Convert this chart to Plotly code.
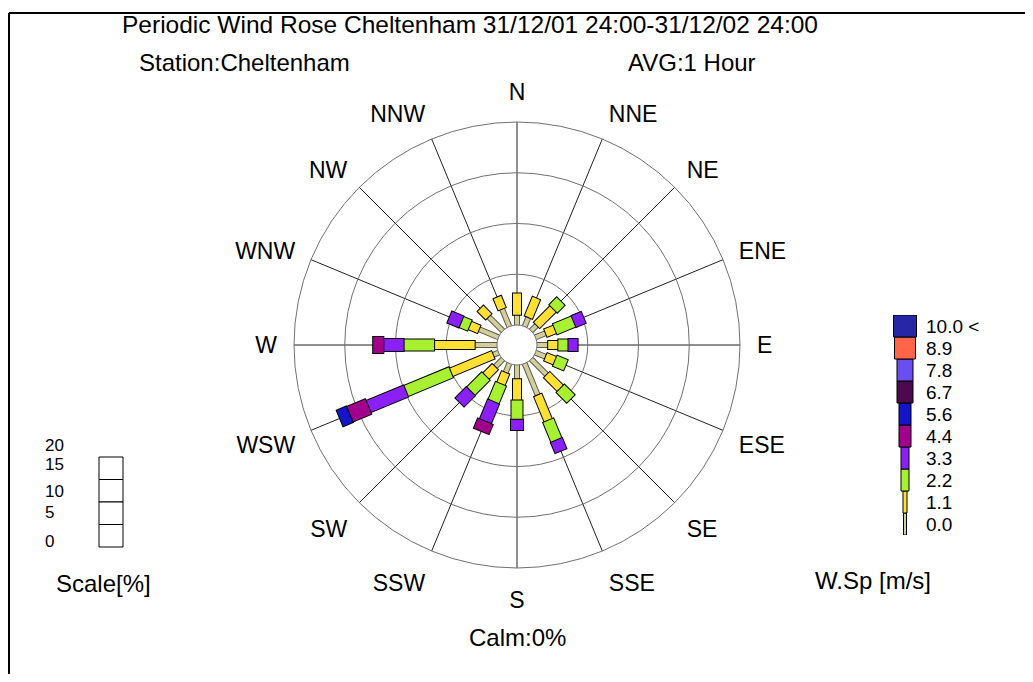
import plotly.graph_objects as go

# ---------------- data ----------------
directions = ["N", "NNE", "NE", "ENE", "E", "ESE", "SE", "SSE",
              "S", "SSW", "SW", "WSW", "W", "WNW", "NW", "NNW"]

speed_labels = ["0.0", "1.1", "2.2", "3.3", "4.4", "5.6", "6.7", "7.8", "8.9", "10.0 <"]

# frequency [%] of each wind-speed class, per direction
freq_0_0 = [1.0, 1.0, 0.8, 1.1, 1.1, 1.1, 2.2, 3.4, 1.4, 1.0, 1.1, 0.6, 2.2, 2.1, 2.0, 1.9]
freq_1_1 = [2.1, 2.0, 2.3, 1.0, 1.0, 1.0, 1.9, 2.7, 2.1, 1.2, 1.3, 4.5, 4.0, 1.0, 1.1, 1.2]
freq_2_2 = [0.0, 0.0, 1.0, 2.0, 1.0, 1.1, 1.4, 2.1, 1.9, 1.9, 2.1, 4.8, 3.0, 0.9, 0.0, 0.0]
freq_3_3 = [0.0, 0.0, 0.0, 1.0, 0.9, 0.0, 0.0, 1.1, 1.0, 2.1, 1.5, 4.0, 2.0, 1.2, 0.0, 0.0]
freq_4_4 = [0.0, 0.0, 0.0, 0.0, 0.0, 0.0, 0.0, 0.0, 0.0, 1.0, 0.0, 2.0, 1.0, 0.0, 0.0, 0.0]
freq_5_6 = [0.0, 0.0, 0.0, 0.0, 0.0, 0.0, 0.0, 0.0, 0.0, 0.0, 0.0, 1.0, 0.0, 0.0, 0.0, 0.0]
freq_6_7 = [0.0, 0.0, 0.0, 0.0, 0.0, 0.0, 0.0, 0.0, 0.0, 0.0, 0.0, 0.0, 0.0, 0.0, 0.0, 0.0]
freq_7_8 = [0.0, 0.0, 0.0, 0.0, 0.0, 0.0, 0.0, 0.0, 0.0, 0.0, 0.0, 0.0, 0.0, 0.0, 0.0, 0.0]
freq_8_9 = [0.0, 0.0, 0.0, 0.0, 0.0, 0.0, 0.0, 0.0, 0.0, 0.0, 0.0, 0.0, 0.0, 0.0, 0.0, 0.0]
freq_10 = [0.0, 0.0, 0.0, 0.0, 0.0, 0.0, 0.0, 0.0, 0.0, 0.0, 0.0, 0.0, 0.0, 0.0, 0.0, 0.0]

scale_labels = ["20", "15", "10", "5", "0"]
calm_pct = 0

title_text = "Periodic Wind Rose Cheltenham 31/12/01 24:00-31/12/02 24:00"
station_text = "Station:Cheltenham"
avg_text = "AVG:1 Hour"

# ---------------- style ----------------
FONT = "Liberation Sans, Arial, sans-serif"
W, H = 1017, 666          # figure size (page has 8px body margin)
classes = [freq_0_0, freq_1_1, freq_2_2, freq_3_3, freq_4_4,
           freq_5_6, freq_6_7, freq_7_8, freq_8_9, freq_10]
colors = ["#D4CE9E", "#FFE033", "#A8F032", "#8A20F5", "#A0008C",
          "#1414C8", "#4B0A4B", "#6A4EF0", "#FF6648", "#2626A6"]
rose_w = [4, 8, 11, 12, 16, 17, 18, 19, 21, 23]     # px, coloured part
legend_w = [3, 4, 8, 8, 12, 12, 16, 16, 21, 23]      # px

R_OUT, R_HOLE = 223.0, 20.0
px_per_unit = (R_OUT - R_HOLE) / 20.0
d = 1.0 / px_per_unit   # 1px outline in radial units


def X(px):
    return (px - 8) / W


def Y(py):
    return 1 - (py - 8) / H


fig = go.Figure()

# ---------------- rose (stacked segments) ----------------
cum = [0.0] * len(directions)
for k, vals in enumerate(classes):
    rb, tb, rc, tc = [], [], [], []
    for j, v in enumerate(vals):
        if v <= 0:
            continue
        r0 = cum[j]
        r1 = r0 + v
        rb += [max(r0 - d, 0), r1 + d, None]
        tb += [directions[j], directions[j], None]
        rc += [r0, r1, None]
        tc += [directions[j], directions[j], None]
        cum[j] = r1
    if not rc:
        continue
    edge = "#5a5a48" if k == 0 else "black"
    fig.add_trace(go.Scatterpolar(r=rb, theta=tb, mode="lines",
                                  line=dict(color=edge, width=rose_w[k] + 2),
                                  showlegend=False, hoverinfo="skip"))
    fig.add_trace(go.Scatterpolar(r=rc, theta=tc, mode="lines",
                                  line=dict(color=colors[k], width=rose_w[k]),
                                  showlegend=False, hoverinfo="skip"))

# ---------------- speed legend ----------------
for i, lab in enumerate(speed_labels):
    fig.add_trace(go.Bar(x=[0], y=[1], base=[i], width=[legend_w[i]],
                         marker=dict(color=colors[i], line=dict(color="black", width=1)),
                         xaxis="x", yaxis="y", showlegend=False, hoverinfo="skip"))

cx, cy = 517, 345
fig.update_layout(
    width=W, height=H,
    margin=dict(l=0, r=0, t=0, b=0),
    paper_bgcolor="white", plot_bgcolor="white",
    font=dict(family=FONT, color="black", size=23),
    barmode="overlay",
    hovermode=False,
    polar=dict(
        domain=dict(x=[X(cx - R_OUT), X(cx + R_OUT)], y=[Y(cy + R_OUT), Y(cy - R_OUT)]),
        hole=R_HOLE / R_OUT,
        bgcolor="white",
        radialaxis=dict(range=[0, 20], tickvals=[5, 10, 15, 20], showticklabels=False,
                        ticks="", showline=False, gridcolor="#707070", gridwidth=1),
        angularaxis=dict(type="category", categoryarray=directions,
                         direction="clockwise", rotation=90,
                         showline=True, linecolor="#707070", linewidth=1,
                         gridcolor="#202020", gridwidth=1,
                         ticks="outside", ticklen=12, tickcolor="rgba(0,0,0,0)",
                         tickfont=dict(size=23, family=FONT, color="black")),
    ),
    xaxis=dict(domain=[X(880), X(920)], range=[-25, 15], visible=False, fixedrange=True),
    yaxis=dict(domain=[Y(535), Y(315)], range=[0, 10], side="right",
               tickvals=[i + 0.5 for i in range(len(speed_labels))], ticktext=speed_labels,
               showgrid=False, zeroline=False, showline=False, ticks="",
               ticklabelstandoff=5,
               tickfont=dict(size=19, family=FONT, color="black"), fixedrange=True),
)

# ---------------- scale box ----------------
shapes = []
bx0, bx1, by0, by1 = 99, 123, 457, 547
nb = len(scale_labels) - 1
for i in range(nb):
    ya = by0 + (by1 - by0) * i / nb
    yb = by0 + (by1 - by0) * (i + 1) / nb
    shapes.append(dict(type="rect", xref="paper", yref="paper",
                       x0=X(bx0), x1=X(bx1), y0=Y(yb), y1=Y(ya),
                       line=dict(color="black", width=1), fillcolor="white"))
# frame
shapes.append(dict(type="line", xref="paper", yref="paper", x0=X(9), x1=X(9), y0=0, y1=Y(13),
                   line=dict(color="black", width=2)))
shapes.append(dict(type="line", xref="paper", yref="paper", x0=X(9), x1=1, y0=Y(13), y1=Y(13),
                   line=dict(color="black", width=2)))
fig.update_layout(shapes=shapes)

ann = []


def txt(t, x, y, size=24, xanchor="center"):
    ann.append(dict(text=t, x=X(x), y=Y(y), xref="paper", yref="paper", showarrow=False,
                    xanchor=xanchor, yanchor="middle", font=dict(size=size, family=FONT, color="black")))


txt(title_text, 470, 24, size=24.5)
txt(station_text, 244, 62)
txt(avg_text, 692, 62)
txt(f"Calm:{calm_pct}%", 517, 637)
txt("Scale[%]", 103, 583)
txt("W.Sp [m/s]", 873, 580)
scale_y = [445, 464, 491, 513, 541]
for lab, yy in zip(scale_labels, scale_y):
    txt(lab, 43, yy, size=17, xanchor="left")
fig.update_layout(annotations=ann)

fig.write_html("out.html")
